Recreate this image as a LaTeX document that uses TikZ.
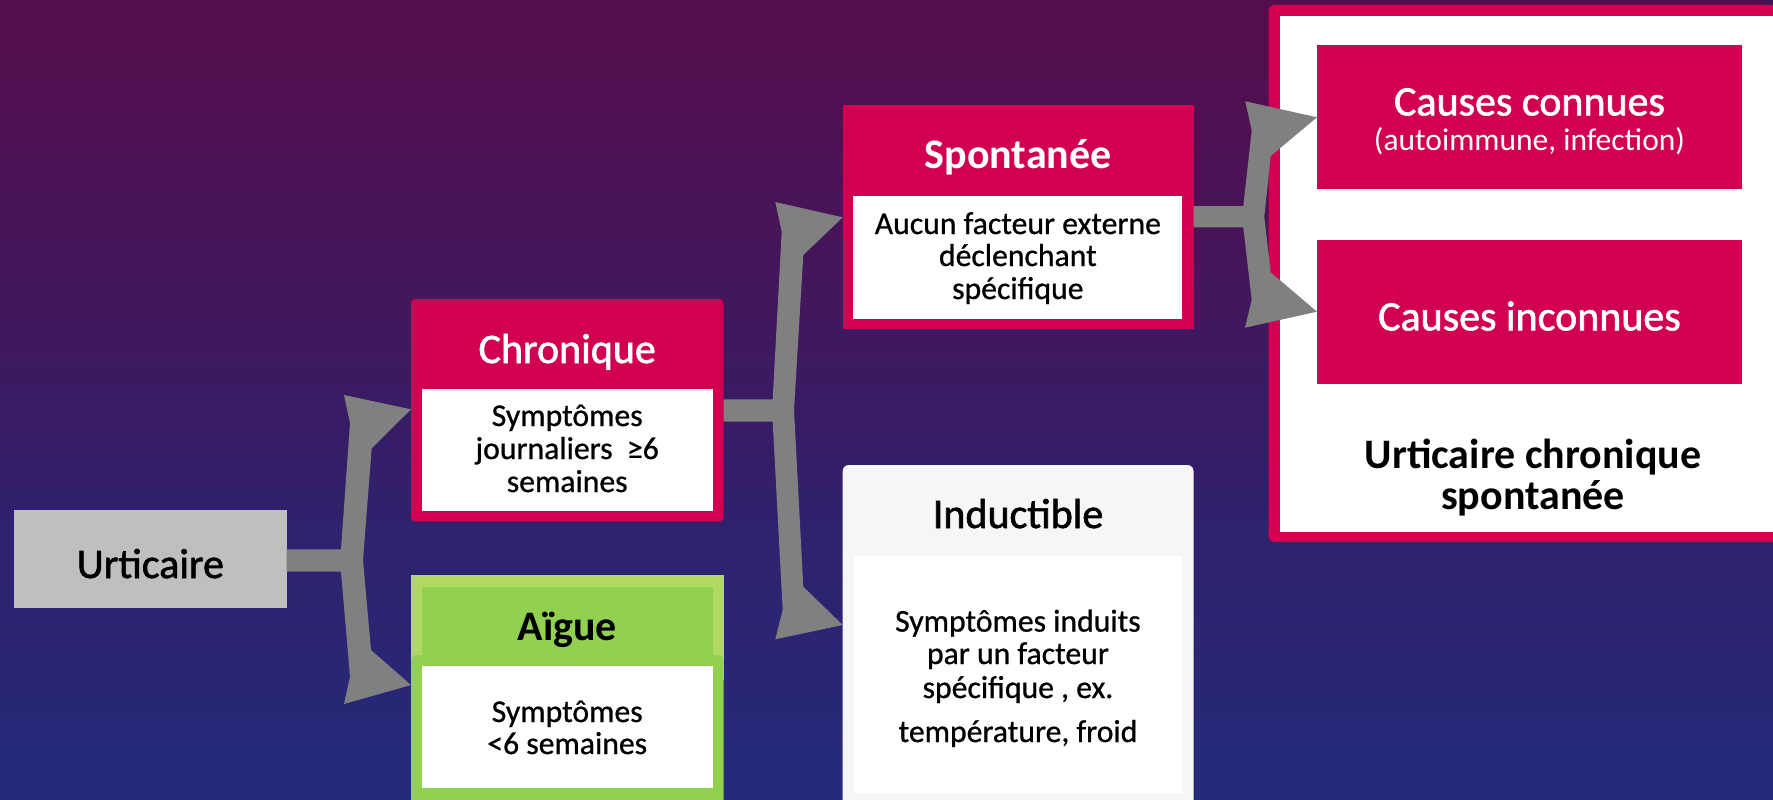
\documentclass[tikz,border=0pt]{standalone}
\usepackage{fontspec}
\setmainfont{Carlito}
\newfontfamily\regw{Carlito}[FakeBold=1.5]
\newfontfamily\regt{Carlito}[FakeBold=0.8]
\usetikzlibrary{calc,fadings}
\definecolor{mag}{RGB}{210,0,80}
\definecolor{ugray}{RGB}{191,191,191}
\definecolor{cgray}{RGB}{128,128,128}
\definecolor{lgreen}{RGB}{176,216,98}
\definecolor{dgreen}{RGB}{146,208,80}
\definecolor{offw}{RGB}{246,246,246}
\definecolor{bgtop}{RGB}{70,18,86}
\definecolor{bgmid}{RGB}{50,28,106}
\definecolor{bgbot}{RGB}{36,42,122}
\definecolor{bgtint}{RGB}{100,10,70}
\tikzset{
  panel/.style={rectangle, inner sep=0pt, outer sep=0pt, draw=none},
  big/.style={font=\regw\fontsize{42}{50}\selectfont, inner sep=0pt, anchor=base},
  bigb/.style={font=\fontsize{42}{50}\selectfont\bfseries, inner sep=0pt, anchor=base},
  txt/.style={font=\regt\fontsize{31.7}{38}\selectfont, inner sep=0pt, anchor=base},
  small/.style={font=\fontsize{31.5}{38}\selectfont, inner sep=0pt, anchor=base},
  conn/.style={fill=cgray, draw=none},
}
\begin{document}
\begin{tikzpicture}[x=1pt,y=-1pt]
\useasboundingbox (0,0) rectangle (1773,800);
\clip (0,0) rectangle (1773,800);
\shade[top color=bgtop, middle color=bgmid, bottom color=bgbot] (0,0) rectangle (1773,800);
\fill[bgtint, path fading=south, opacity=0.5] (0,0) rectangle (1773,520);

% Urticaire
\node[panel, fill=ugray, minimum width=272.7pt, minimum height=98pt] (urt) at (150.35,559) {};
\node[big] (turt) at (150.35,578) {Urticaire};

% Chronique
\node[panel, fill=mag, rounded corners=4pt, minimum width=312.5pt, minimum height=222.5pt] (chr) at (567.25,410.25) {};
\node[panel, fill=white, minimum width=291pt, minimum height=121.5pt] (chrb) at (567.2,449.75) {};
\node[big, text=white] (chrt) at (567.25,363) {Chronique};
\node[txt] (chr1) at (567.2,426) {Symptômes};
\node[txt] (chr2) at (567.2,459) {journaliers\ \ ≥6};
\node[txt] (chr3) at (567.2,492) {semaines};

% Aigue
\node[panel, fill=lgreen, minimum width=312.5pt, minimum height=105pt] (aigh) at (567.25,627.5) {};
\node[panel, fill=dgreen, minimum width=291pt, minimum height=93pt] (aigi) at (567.2,633.5) {};
\node[panel, fill=dgreen, rounded corners=5pt, minimum width=312.5pt, minimum height=175pt] (aigb) at (567.25,742.5) {};
\node[panel, fill=white, minimum width=291pt, minimum height=121.5pt] (aigw) at (567.2,726.75) {};
\node[bigb] (aigt) at (567.25,640) {Aïgue};
\node[txt] (aig1) at (567.2,722) {Symptômes};
\node[txt] (aig2) at (567.2,754) {<6 semaines};

% Spontanee
\node[panel, fill=mag, minimum width=350.8pt, minimum height=223.9pt] (spo) at (1018.1,217.35) {};
\node[panel, fill=white, minimum width=329.1pt, minimum height=122.6pt] (spob) at (1017.85,257.3) {};
\node[bigb, text=white] (spot) at (1018.1,168.6) {Spontanée};
\node[txt] (spo1) at (1017.85,234) {Aucun facteur externe};
\node[txt] (spo2) at (1017.85,266) {déclenchant};
\node[txt] (spo3) at (1017.85,299) {spécifique};

% Inductible
\node[panel, fill=offw, rounded corners=6pt, minimum width=350.8pt, minimum height=365pt] (ind) at (1018.1,647.5) {};
\node[panel, fill=white, minimum width=328.9pt, minimum height=237pt] (indb) at (1017.95,674.5) {};
\node[big] (indt) at (1018.1,528) {Inductible};
\node[txt] (ind1) at (1017.95,631.6) {Symptômes induits};
\node[txt] (ind2) at (1017.95,664) {par un facteur};
\node[txt] (ind3) at (1017.95,698) {spécifique , ex.};
\node[txt] (ind4) at (1017.95,742) {température, froid};

% Urticaire chronique spontanee
\node[panel, fill=mag, rounded corners=6pt, minimum width=521.5pt, minimum height=537pt] (ucs) at (1529.25,273.5) {};
\node[panel, fill=white, minimum width=510pt, minimum height=516pt] (ucsb) at (1535,274) {};
\node[panel, fill=mag, minimum width=425pt, minimum height=143.5pt] (cc) at (1529.5,116.75) {};
\node[big, text=white] (cct) at (1529.5,115.4) {Causes connues};
\node[small, text=white] (ccs) at (1529.5,150) {(autoimmune, infection)};
\node[panel, fill=mag, minimum width=425pt, minimum height=143.6pt] (ci) at (1529.5,311.8) {};
\node[big, text=white] (cit) at (1529.5,330.4) {Causes inconnues};
\node[bigb] (ucs1) at (1533,468) {Urticaire chronique};
\node[bigb] (ucs2) at (1533,509) {spontanée};

% Connectors
\fill[conn] ($(urt.east)+(0,-9.7)$) -- (341,549.3) -- (350,423) -- (344,395)
  -- ($(chr.west)+(0,-0.95)$) -- (371.7,448.3) -- (363,560) -- (371,650)
  -- ($(aigh.west)+(0,57.5)$) -- (344,704) -- (350,676.7) -- (341,571.7)
  -- ($(urt.east)+(0,12.7)$) -- cycle;
\fill[conn] ($(chr.east)+(0,-10.95)$) -- (772.7,399.3) -- (781.7,231.7) -- (775.3,202)
  -- (spo.west) -- (803.3,255) -- (794,410) -- (803.3,586.7)
  -- ($(ind.west)+(0,-22.5)$) -- (775.3,639.3) -- (782.7,610) -- (772.7,421.7)
  -- ($(chr.east)+(0,11.45)$) -- cycle;
\fill[conn] ($(spo.east)+(0,-11.35)$) -- (1243.3,206) -- (1251.7,130.7) -- (1245.3,101.3)
  -- ($(cc.west)+(0,0.55)$) -- (1270.7,156) -- (1264.3,217) -- (1270.7,272.3)
  -- ($(ci.west)+(0,-0.1)$) -- (1245,327.7) -- (1251.7,300) -- (1243.3,227.3)
  -- ($(spo.east)+(0,9.95)$) -- cycle;
\end{tikzpicture}
\end{document}
